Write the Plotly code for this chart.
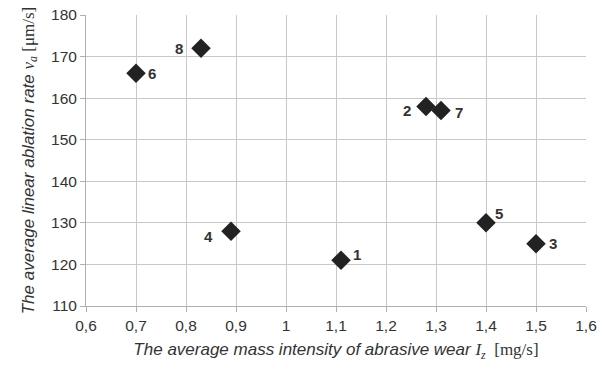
import plotly.graph_objects as go

labels = ["1", "2", "3", "4", "5", "6", "7", "8"]
mass_intensity = [1.11, 1.28, 1.50, 0.89, 1.40, 0.70, 1.31, 0.83]
ablation_rate = [121, 158, 125, 128, 130, 166, 157, 172]
label_dx = [16, -19, 17, -23, 13, 16, 18, -22]
label_dy = [6, -4, 0, -5, 9, 0, -2, 0]

x_ticks = [0.6, 0.7, 0.8, 0.9, 1.0, 1.1, 1.2, 1.3, 1.4, 1.5, 1.6]
x_ticktext = ["0,6", "0,7", "0,8", "0,9", "1", "1,1", "1,2", "1,3", "1,4", "1,5", "1,6"]
y_ticks = [110, 120, 130, 140, 150, 160, 170, 180]

fig = go.Figure(go.Scatter(
    x=mass_intensity, y=ablation_rate, mode="markers",
    marker=dict(symbol="diamond", size=15, color="#222"),
    cliponaxis=False, showlegend=False,
))

for t, x, y, dx, dy in zip(labels, mass_intensity, ablation_rate, label_dx, label_dy):
    fig.add_annotation(x=x, y=y, text="<b>%s</b>" % t, showarrow=False,
                       xshift=dx, yshift=dy,
                       font=dict(family="Liberation Sans, Arial", size=15, color="#333"))

serif = "font-family:'Liberation Serif','Times New Roman',serif"
fig.update_layout(
    width=597, height=374,
    margin=dict(l=86, r=11, t=15, b=68, autoexpand=False),
    paper_bgcolor="white", plot_bgcolor="white",
    font=dict(family="Liberation Sans, Arial", size=15, color="#333"),
    xaxis=dict(
        range=[0.6, 1.6], tickvals=x_ticks, ticktext=x_ticktext, automargin=False,
        showgrid=True, gridcolor="#c8c8c8", gridwidth=1,
        showline=True, linecolor="#b0b0b0", ticks="outside", ticklen=5, tickcolor="#b0b0b0",
        zeroline=False, tickfont=dict(size=15.5),
        title=dict(text="<i>The average mass intensity of abrasive wear</i> "
                        "<span style=\"%s\"><i>I<sub>z</sub></i>  [mg/s]</span>" % serif,
                   font=dict(size=17, color="#333"), standoff=10),
    ),
    yaxis=dict(
        range=[110, 180], tickvals=y_ticks, automargin=False,
        showgrid=True, gridcolor="#c8c8c8", gridwidth=1,
        showline=True, linecolor="#b0b0b0", ticks="outside", ticklen=5, tickcolor="#b0b0b0",
        zeroline=False, tickfont=dict(size=15.5),
        title=dict(text="<i>The average linear ablation rate</i> "
                        "<span style=\"%s\"><i>v<sub>a</sub></i> [μm/s]</span>" % serif,
                   font=dict(size=17, color="#333"), standoff=12),
    ),
)

fig.write_html("out.html")
